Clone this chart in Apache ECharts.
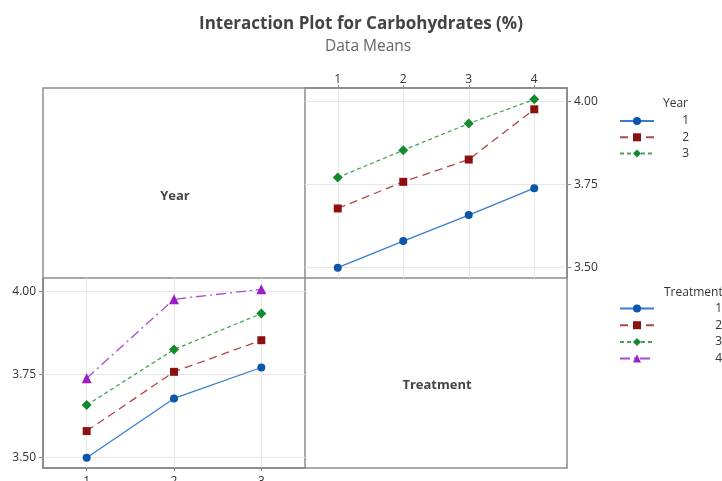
<!DOCTYPE html>
<html>
<head>
    <meta charset="UTF-8">
    <title>Interaction Plot for Carbohydrates (%)</title>
    <script src="https://cdn.jsdelivr.net/npm/echarts@6/dist/echarts.min.js"></script>
    <style>
        html, body { margin: 0; padding: 0; background: #fff; }
        #main { width: 722px; height: 481px; }
    </style>
</head>
<body>
<div id="main"></div>
<script type="text/javascript">

    // factor levels
    var treatments = [1, 2, 3, 4];
    var years = [1, 2, 3];

    // data means, one row per year, columns = treatment 1..4
    var year1 = [3.500, 3.580, 3.658, 3.739];
    var year2 = [3.678, 3.758, 3.825, 3.976];
    var year3 = [3.771, 3.853, 3.933, 4.006];
    var yearRows = [year1, year2, year3];

    var yTicks = [3.50, 3.75, 4.00];

    // one look per level, shared by both factors (Minitab style)
    var looks = [
        { marker: '#0b56ad', line: '#3b7cd0', symbol: 'circle', size: 8, dash: 'solid' },
        { marker: '#8e1111', line: '#b24545', symbol: 'rect', size: 8, dash: [8, 5] },
        { marker: '#138a2d', line: '#45a555', symbol: 'diamond', size: 10, dash: [4, 3] },
        { marker: '#9b1fc9', line: '#a84ad6', symbol: 'triangle', size: 10, dash: [10, 4, 2, 4] }
    ];

    var font = 'Open Sans';
    var gray = '#8c8c8c';

    var myChart = echarts.init(document.getElementById('main'));

    function makeLine(name, look, data, gi) {
        return {
            name: name,
            type: 'line',
            xAxisIndex: gi,
            yAxisIndex: gi,
            data: data,
            symbol: look.symbol,
            symbolSize: look.size,
            clip: false,
            itemStyle: { color: look.marker },
            lineStyle: { color: look.line, width: 1.3, type: look.dash },
            emphasis: { disabled: true }
        };
    }

    var series = [];
    // top right: x = treatment, one line per year
    yearRows.forEach(function (row, i) {
        var pts = treatments.map(function (t, j) { return [t, row[j]]; });
        series.push(makeLine(String(years[i]), looks[i], pts, 0));
    });
    // bottom left: x = year, one line per treatment
    treatments.forEach(function (t, j) {
        var pts = years.map(function (y, i) { return [y, yearRows[i][j]]; });
        series.push(makeLine(String(t), looks[j], pts, 1));
    });

    function xAxis(gi, vals, pos, margin) {
        return {
            gridIndex: gi,
            type: 'value',
            position: pos,
            min: vals[0] - 0.5,
            max: vals[vals.length - 1] + 0.5,
            axisLine: { show: true, lineStyle: { color: gray, width: 1.5 } },
            axisTick: { show: true, length: 3, customValues: vals, lineStyle: { color: gray } },
            axisLabel: { customValues: vals, margin: margin, color: '#333', fontFamily: font, fontSize: 12 },
            splitLine: { show: true, lineStyle: { color: '#e8e8e8', width: 1 } }
        };
    }
    function yAxis(gi, pos) {
        return {
            gridIndex: gi,
            type: 'value',
            position: pos,
            min: 3.469,
            max: 4.04,
            axisLine: { show: true, lineStyle: { color: gray, width: 1.5 } },
            axisTick: { show: true, length: 4, customValues: yTicks, lineStyle: { color: gray } },
            axisLabel: {
                customValues: yTicks, margin: 7, color: '#333', fontFamily: font, fontSize: 12,
                formatter: function (v) { return v.toFixed(2); }
            },
            splitLine: { show: true, lineStyle: { color: '#e8e8e8', width: 1 } }
        };
    }

    function legendText(w) {
        return {
            formatter: function (n) { return '{n|' + n + '}'; },
            textStyle: {
                color: '#333', fontFamily: font, fontSize: 12,
                rich: { n: { width: w, align: 'right', fontFamily: font, fontSize: 12, color: '#333' } }
            }
        };
    }

    var option = {
        animation: false,
        backgroundColor: '#fff',
        title: [
            {
                text: 'Interaction Plot for Carbohydrates (%)',
                left: 'center',
                top: 11,
                textStyle: { fontFamily: font, fontSize: 17, fontWeight: 'bold', color: '#444' }
            },
            {
                text: 'Data Means',
                left: 320,
                top: 34,
                textStyle: { fontFamily: font, fontSize: 15.5, fontWeight: 'normal', color: '#666' }
            }
        ],
        grid: [
            { left: 305, top: 88, width: 262, height: 190, show: true, borderColor: gray, borderWidth: 1.5,
              outerBoundsMode: 'none', containLabel: false },
            { left: 43, top: 278, width: 262, height: 190, show: true, borderColor: gray, borderWidth: 1.5,
              outerBoundsMode: 'none', containLabel: false }
        ],
        xAxis: [xAxis(0, treatments, 'top', 2), xAxis(1, years, 'bottom', 8)],
        yAxis: [yAxis(0, 'right'), yAxis(1, 'left')],
        legend: [
            Object.assign({
                data: years.map(String),
                orient: 'vertical',
                left: 619,
                top: 115,
                itemWidth: 34,
                itemHeight: 10,
                itemGap: 4.3,
                padding: 0,
                selectedMode: false
            }, legendText(30)),
            Object.assign({
                data: treatments.map(String),
                orient: 'vertical',
                left: 619,
                top: 302.5,
                itemWidth: 34,
                itemHeight: 10,
                itemGap: 4.7,
                padding: 0,
                selectedMode: false
            }, legendText(63))
        ],
        graphic: [
            {
                type: 'rect',
                shape: { x: 43, y: 88, width: 524, height: 380 },
                style: { fill: 'none', stroke: gray, lineWidth: 1.5 },
                silent: true
            },
            {
                type: 'text', x: 175, y: 196,
                style: { text: 'Year', textAlign: 'center', textVerticalAlign: 'middle', fill: '#444',
                         font: 'bold 13px "Open Sans"' }
            },
            {
                type: 'text', x: 437, y: 385,
                style: { text: 'Treatment', textAlign: 'center', textVerticalAlign: 'middle', fill: '#444',
                         font: 'bold 13px "Open Sans"' }
            },
            {
                type: 'text', x: 663, y: 104,
                style: { text: 'Year', textAlign: 'left', textVerticalAlign: 'middle', fill: '#333',
                         font: '12px "Open Sans"' }
            },
            {
                type: 'text', x: 664, y: 293,
                style: { text: 'Treatment', textAlign: 'left', textVerticalAlign: 'middle', fill: '#333',
                         font: '12px "Open Sans"' }
            }
        ],
        series: series
    };

    myChart.setOption(option);
</script>
</body>
</html>
